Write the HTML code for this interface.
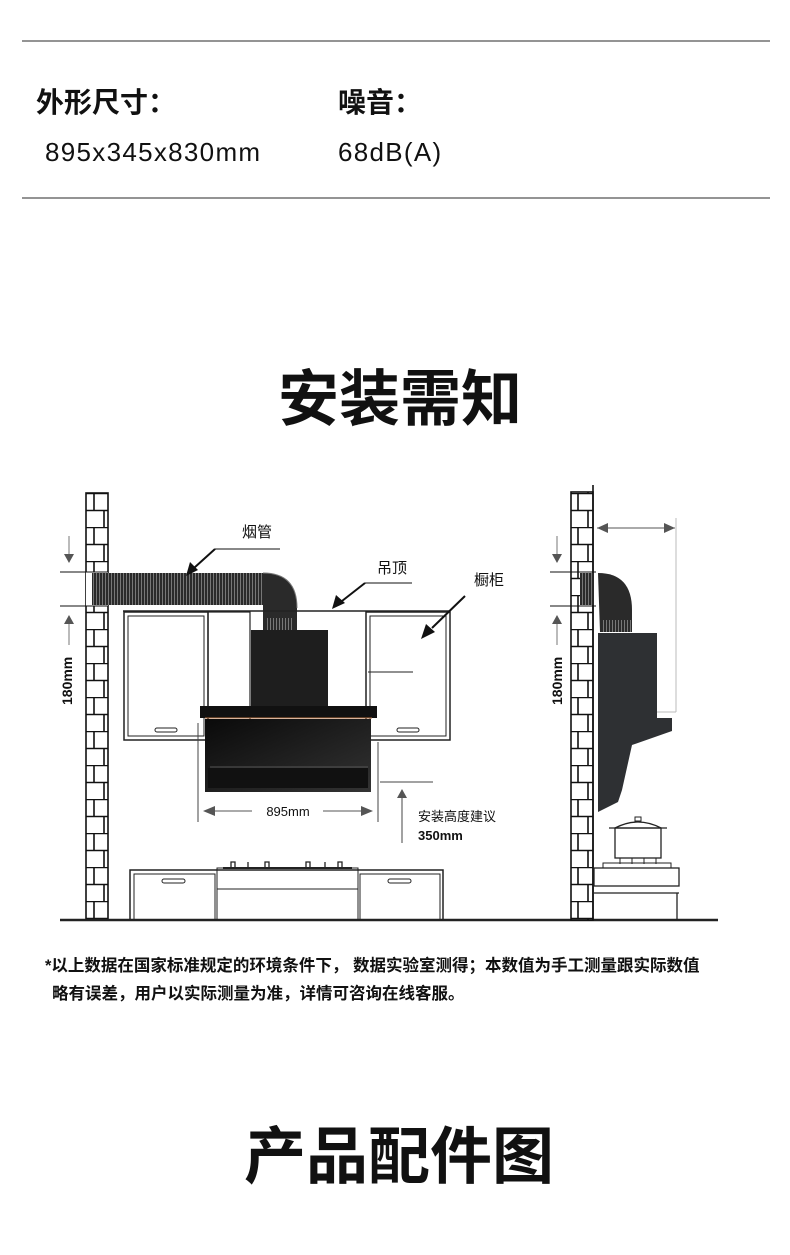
<!DOCTYPE html>
<html><head><meta charset="utf-8"><style>
html,body{margin:0;padding:0;background:#fff}
svg{display:block}
text{font-family:"Liberation Sans","Noto Sans CJK SC",sans-serif}
</style></head><body>
<svg width="790" height="1255" viewBox="0 0 790 1255" xmlns="http://www.w3.org/2000/svg">
<defs>
<pattern id="brick" x="0" y="493" width="22" height="34" patternUnits="userSpaceOnUse">
<rect width="22" height="34" fill="#fff"/>
<path d="M0 0.5H22M0 17.5H22M6 0V17M16 17V34" stroke="#111" stroke-width="1.6" fill="none"/>
</pattern>
<pattern id="duct" x="0" y="0" width="3" height="10" patternUnits="userSpaceOnUse">
<rect width="3" height="10" fill="#2a2a2a"/><rect width="1" height="10" fill="#777"/>
</pattern>
<linearGradient id="glass" x1="0" y1="0" x2="1" y2="1"><stop offset="0" stop-color="#0a0a0a"/><stop offset="1" stop-color="#333"/></linearGradient>
</defs>
<rect width="790" height="1255" fill="#fff"/>
<line x1="22" y1="41" x2="770" y2="41" stroke="#555" stroke-width="1.3"/>
<line x1="22" y1="198" x2="770" y2="198" stroke="#555" stroke-width="1.3"/>
<text x="36" y="112" font-size="28" font-weight="bold" fill="#111">外形尺寸：</text>
<text x="338" y="112" font-size="28" font-weight="bold" fill="#111">噪音：</text>
<text x="45" y="161" font-size="26" letter-spacing="1.3" fill="#111">895x345x830mm</text>
<text x="338" y="161" font-size="26" letter-spacing="1.3" fill="#111">68dB(A)</text>
<text x="400" y="420" font-size="61" font-weight="bold" text-anchor="middle" fill="#111">安装需知</text>

<!-- LEFT DIAGRAM -->
<rect x="86" y="493" width="22" height="427" fill="url(#brick)" stroke="#111" stroke-width="1.6"/>
<rect x="86" y="572" width="22" height="34" fill="#fff"/>
<line x1="60" y1="572" x2="108" y2="572" stroke="#111"/>
<line x1="60" y1="606" x2="108" y2="606" stroke="#111"/>
<line x1="60" y1="920" x2="718" y2="920" stroke="#222" stroke-width="2.5"/>
<path d="M69 536V555" stroke="#777"/><path d="M64 554L69 563L74 554Z" fill="#555"/>
<path d="M69 624V645" stroke="#777"/><path d="M64 624L69 615L74 624Z" fill="#555"/>
<text transform="translate(72,705) rotate(-90)" font-size="14" font-weight="bold" fill="#111">180mm</text>
<rect x="92" y="573" width="175" height="32" fill="url(#duct)"/>
<path d="M262 573Q297 573 297 608V630H263V605Z" fill="#2a2a2a"/>
<path d="M263 573Q297 573 297 608" stroke="#777" fill="none" stroke-width="1"/>
<rect x="267" y="618" width="27" height="12" fill="url(#duct)"/>
<line x1="123" y1="611" x2="450" y2="611" stroke="#222" stroke-width="1.5"/>
<rect x="124" y="612" width="84" height="128" fill="none" stroke="#222" stroke-width="1.5"/>
<rect x="128" y="616" width="76" height="120" fill="none" stroke="#222"/>
<rect x="208" y="612" width="42" height="128" fill="none" stroke="#222" stroke-width="1.2"/>
<rect x="366" y="612" width="84" height="128" fill="none" stroke="#222" stroke-width="1.5"/>
<rect x="370" y="616" width="76" height="120" fill="none" stroke="#222"/>
<line x1="368" y1="672" x2="413" y2="672" stroke="#222"/>
<rect x="155" y="728" width="22" height="4" rx="2" fill="none" stroke="#222"/>
<rect x="397" y="728" width="22" height="4" rx="2" fill="none" stroke="#222"/>
<rect x="251" y="630" width="77" height="78" fill="#1e1e1e"/>
<rect x="200" y="706" width="177" height="12" fill="#111"/>
<line x1="205" y1="718" x2="372" y2="718" stroke="#b06a3a" stroke-width="1"/>
<rect x="205" y="719" width="166" height="73" fill="url(#glass)"/>
<rect x="208" y="768" width="160" height="20" fill="#111"/>
<line x1="210" y1="767" x2="368" y2="767" stroke="#555"/>
<line x1="198" y1="723" x2="198" y2="822" stroke="#444"/>
<line x1="378" y1="742" x2="378" y2="822" stroke="#444"/>
<path d="M203 811L215 806V816Z" fill="#555"/><line x1="215" y1="811" x2="252" y2="811" stroke="#555"/>
<path d="M373 811L361 806V816Z" fill="#555"/><line x1="323" y1="811" x2="361" y2="811" stroke="#555"/>
<text x="288" y="816" font-size="13" text-anchor="middle" fill="#111">895mm</text>
<line x1="380" y1="782" x2="433" y2="782" stroke="#444"/>
<line x1="402" y1="798" x2="402" y2="843" stroke="#444"/>
<path d="M397 798L402 789L407 798Z" fill="#555"/>
<text x="418" y="821" font-size="13" fill="#111">安装高度建议</text>
<text x="418" y="840" font-size="13" font-weight="bold" fill="#111">350mm</text>
<text x="242" y="537" font-size="15" fill="#111">烟管</text>
<line x1="280" y1="549" x2="215" y2="549" stroke="#111"/>
<line x1="215" y1="549" x2="194" y2="568" stroke="#111" stroke-width="2"/>
<path d="M186 576L190 562L198 570Z" fill="#111"/>
<text x="377" y="573" font-size="15" fill="#111">吊顶</text>
<line x1="412" y1="583" x2="365" y2="583" stroke="#111"/>
<line x1="365" y1="583" x2="342" y2="601" stroke="#111" stroke-width="2"/>
<path d="M332 609L336 595L345 603Z" fill="#111"/>
<text x="474" y="585" font-size="15" fill="#111">橱柜</text>
<line x1="465" y1="596" x2="432" y2="628" stroke="#111" stroke-width="2"/>
<path d="M421 639L426 624L435 632Z" fill="#111"/>
<rect x="130" y="870" width="313" height="50" fill="none" stroke="#222" stroke-width="1.5"/>
<rect x="134" y="874" width="81" height="46" fill="none" stroke="#222"/>
<rect x="217" y="868" width="141" height="52" fill="none" stroke="#222"/>
<line x1="217" y1="889" x2="358" y2="889" stroke="#222"/>
<rect x="360" y="874" width="80" height="46" fill="none" stroke="#222"/>
<rect x="162" y="879" width="23" height="4" rx="2" fill="none" stroke="#222"/>
<rect x="388" y="879" width="23" height="4" rx="2" fill="none" stroke="#222"/>
<path d="M223 868H352" stroke="#222" stroke-width="2"/>
<path d="M231 868v-6h4v6M248 868v-6M265 868v-6h4v6M306 868v-6h4v6M325 868v-6M338 868v-6h4v6" stroke="#222" fill="none" stroke-width="1.3"/>

<!-- RIGHT DIAGRAM -->
<rect x="571" y="492" width="22" height="428" fill="url(#brick)" stroke="#111" stroke-width="1.6"/>
<line x1="593" y1="485" x2="593" y2="920" stroke="#111" stroke-width="1.6"/>
<line x1="550" y1="572" x2="596" y2="572" stroke="#111"/>
<line x1="550" y1="606" x2="596" y2="606" stroke="#111"/>
<path d="M557 536V555" stroke="#777"/><path d="M552 554L557 563L562 554Z" fill="#555"/>
<path d="M557 624V645" stroke="#777"/><path d="M552 624L557 615L562 624Z" fill="#555"/>
<text transform="translate(562,705) rotate(-90)" font-size="14" font-weight="bold" fill="#111">180mm</text>
<rect x="580" y="573" width="14" height="32" fill="url(#duct)"/>
<path d="M598 573Q632 573 632 610V632H600Z" fill="#2a2a2a"/>
<rect x="603" y="620" width="29" height="12" fill="url(#duct)"/>
<path d="M598 633H657V718H672V731L632 745L622 790L618 802L598 812Z" fill="#2e3033"/>
<line x1="597" y1="528" x2="675" y2="528" stroke="#555"/>
<path d="M597 528L608 523V533Z" fill="#555"/><path d="M675 528L664 523V533Z" fill="#555"/>
<line x1="676" y1="518" x2="676" y2="712" stroke="#bbb"/>
<line x1="657" y1="712" x2="676" y2="712" stroke="#bbb"/>
<rect x="615" y="828" width="46" height="30" fill="none" stroke="#222" stroke-width="1.3"/>
<path d="M609 828H667M615 828Q638 816 661 828" stroke="#222" fill="none" stroke-width="1.3"/>
<rect x="635" y="817" width="6" height="4" fill="none" stroke="#222"/>
<path d="M620 858v6M632 858v6M644 858v6M656 858v6" stroke="#222"/>
<rect x="603" y="863" width="68" height="5" fill="none" stroke="#222"/>
<rect x="594" y="868" width="85" height="18" fill="none" stroke="#222" stroke-width="1.3"/>
<line x1="594" y1="893" x2="679" y2="893" stroke="#222" stroke-width="1.3"/>
<line x1="677" y1="893" x2="677" y2="920" stroke="#222" stroke-width="1.3"/>

<text x="45" y="971" font-size="16.5" font-weight="bold" fill="#111">*以上数据在国家标准规定的环境条件下， 数据实验室测得；本数值为手工测量跟实际数值</text>
<text x="52" y="999" font-size="16.5" font-weight="bold" fill="#111">略有误差，用户以实际测量为准，详情可咨询在线客服。</text>
<text x="399" y="1178" font-size="62" font-weight="bold" text-anchor="middle" fill="#111">产品配件图</text>
</svg>
</body></html>
